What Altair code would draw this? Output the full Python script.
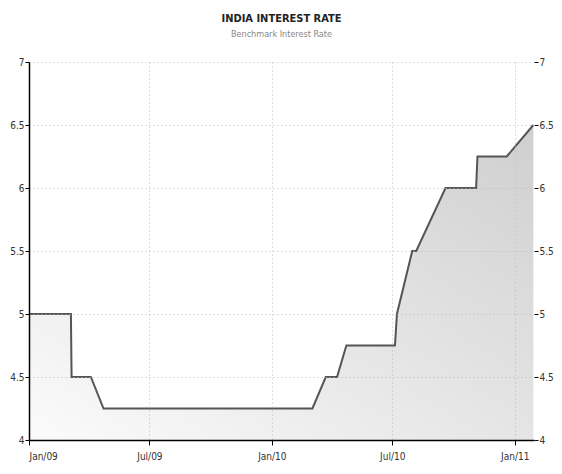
import altair as alt
import pandas as pd

dates = ["2009-01-01", "2009-03-05", "2009-03-06", "2009-04-04", "2009-04-23",
         "2010-03-03", "2010-03-23", "2010-04-09", "2010-04-23", "2010-07-05",
         "2010-07-08", "2010-07-31", "2010-08-06", "2010-09-19", "2010-11-04",
         "2010-11-06", "2010-12-20", "2011-01-29"]
rates = [5.0, 5.0, 4.5, 4.5, 4.25,
         4.25, 4.5, 4.5, 4.75, 4.75,
         5.0, 5.5, 5.5, 6.0, 6.0,
         6.25, 6.25, 6.5]
tick_dates = ["2009-01-01", "2009-07-01", "2010-01-01", "2010-07-01", "2011-01-01"]
y_ticks = [4, 4.5, 5, 5.5, 6, 6.5, 7]

df = pd.DataFrame({"date": dates, "rate": rates})
FONT = "Liberation Sans Narrow, DejaVu Sans Condensed, Liberation Sans, sans-serif"

xscale = alt.Scale(type="utc", domain=[{"year": 2009, "month": 1, "date": 1, "utc": True},
                                       {"year": 2011, "month": 1, "date": 30, "utc": True}],
                   nice=False)
yscale = alt.Scale(domain=[4, 7], nice=False, zero=False)

tick_vals = [{"year": int(d[:4]), "month": int(d[5:7]), "date": 1, "utc": True} for d in tick_dates]

xaxis = alt.Axis(values=tick_vals, labelExpr="utcFormat(datum.value, '%b/%y')",
                 title=None, grid=True, gridDash=[1, 3], gridColor="#bbbbbb",
                 domainColor="#000000", domainWidth=1.5, tickColor="#000000", tickSize=5,
                 labelFont=FONT, labelFontSize=10, labelColor="#333333", labelPadding=6,
                 zindex=1)

yaxis_left = alt.Axis(values=y_ticks, format="~g", title=None, grid=True, gridDash=[1, 3],
                      gridColor="#bbbbbb",
                      domainColor="#000000", domainWidth=1.5, tickColor="#000000", tickSize=4,
                      labelFont=FONT, labelFontSize=10, labelColor="#333333", labelPadding=1,
                      zindex=1)
yaxis_right = alt.Axis(values=y_ticks, format="~g", title=None, grid=False, orient="right",
                       domain=False, tickColor="#000000", tickSize=4,
                       labelFont=FONT, labelFontSize=10, labelColor="#333333", labelPadding=1)

base = alt.Chart(df)

area = base.mark_area(
    interpolate="linear",
    color=alt.Gradient(gradient="linear", x1=1, y1=0, x2=0, y2=1,
                       stops=[alt.GradientStop(color="#cfcfcf", offset=0),
                              alt.GradientStop(color="#fbfbfb", offset=1)]),
).encode(
    x=alt.X("date:T", scale=xscale, axis=xaxis),
    y=alt.Y("rate:Q", scale=yscale, axis=yaxis_left),
    y2=alt.datum(4),
)

line = base.mark_line(color="#555555", strokeWidth=2).encode(
    x=alt.X("date:T", scale=xscale),
    y=alt.Y("rate:Q", scale=yscale, axis=yaxis_right),
)

chart = alt.layer(area, line).resolve_axis(y="independent").properties(
    width=505, height=378,
    autosize=alt.AutoSizeParams(type="none"),
    padding={"left": 21, "top": 54, "right": 20, "bottom": 26},
    title=alt.TitleParams(text="INDIA INTEREST RATE", subtitle="Benchmark Interest Rate",
                          anchor="middle", font=FONT, fontSize=11, fontWeight="bold",
                          color="#222222", subtitleFont=FONT, subtitleFontSize=9,
                          subtitleColor="#888888", offset=18, subtitlePadding=6),
).configure_view(stroke=None)

chart.save("out.html", embed_options={"renderer": "svg", "actions": False})
